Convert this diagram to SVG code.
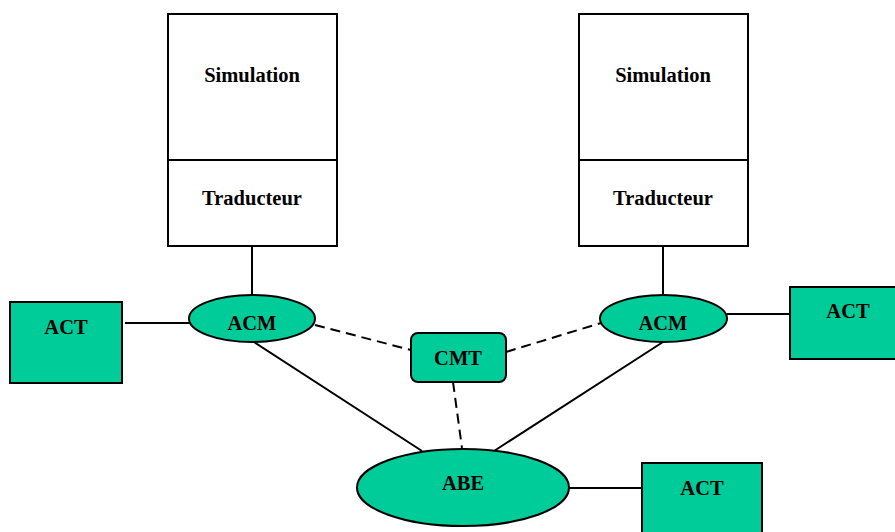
<svg xmlns="http://www.w3.org/2000/svg" width="895" height="532" viewBox="0 0 895 532">
<style>
.box{fill:#fff;stroke:#000;stroke-width:2}
.g{fill:#00CC99;stroke:#000;stroke-width:2}
.t{font-family:"Liberation Serif","Times New Roman",serif;font-weight:bold;font-size:20.5px;text-anchor:middle;fill:#000}
.l{stroke:#000;stroke-width:2;fill:none}
.d{stroke:#000;stroke-width:2;fill:none;stroke-dasharray:10,6}
</style>
<rect width="895" height="532" fill="#fff"/>
<g id="connectors">
<line class="l" x1="252" y1="246" x2="252" y2="295"/>
<line class="l" x1="663" y1="246" x2="663" y2="295"/>
<line class="l" x1="125" y1="323" x2="190" y2="323"/>
<line class="l" x1="727" y1="314" x2="790" y2="314"/>
<line class="l" x1="569" y1="488" x2="642" y2="488"/>
<line class="l" x1="254" y1="342" x2="422" y2="451"/>
<line class="l" x1="663" y1="342" x2="494" y2="451"/>
<line class="d" x1="315" y1="325" x2="411" y2="350"/>
<line class="d" x1="506" y1="352" x2="601" y2="323"/>
<line class="d" x1="453" y1="382" x2="462" y2="448"/>
</g>
<g id="sim-left">
<rect class="box" x="168" y="14" width="169" height="232"/>
<line class="l" x1="168" y1="160" x2="337" y2="160"/>
<text class="t" x="252" y="82">Simulation</text>
<text class="t" x="252" y="205">Traducteur</text>
</g>
<g id="sim-right">
<rect class="box" x="579" y="14" width="169" height="232"/>
<line class="l" x1="579" y1="160" x2="748" y2="160"/>
<text class="t" x="663" y="82">Simulation</text>
<text class="t" x="663" y="205">Traducteur</text>
</g>
<g id="act-left">
<rect class="g" x="10" y="302" width="112" height="81"/>
<text class="t" x="66" y="334">ACT</text>
</g>
<g id="acm-left">
<ellipse class="g" cx="252" cy="318.5" rx="63" ry="23.5"/>
<text class="t" x="252" y="330">ACM</text>
</g>
<g id="cmt">
<rect class="g" x="411" y="333" width="95" height="49" rx="7"/>
<text class="t" x="458" y="365">CMT</text>
</g>
<g id="acm-right">
<ellipse class="g" cx="663.5" cy="318.5" rx="63.5" ry="23.5"/>
<text class="t" x="663" y="330">ACM</text>
</g>
<g id="act-right">
<rect class="g" x="790" y="287" width="110" height="72"/>
<text class="t" x="848" y="318">ACT</text>
</g>
<g id="abe">
<ellipse class="g" cx="463" cy="487.5" rx="106" ry="38.5"/>
<text class="t" x="463" y="490">ABE</text>
</g>
<g id="act-bottom">
<rect class="g" x="642" y="463" width="120" height="75"/>
<text class="t" x="702" y="495">ACT</text>
</g>
</svg>
